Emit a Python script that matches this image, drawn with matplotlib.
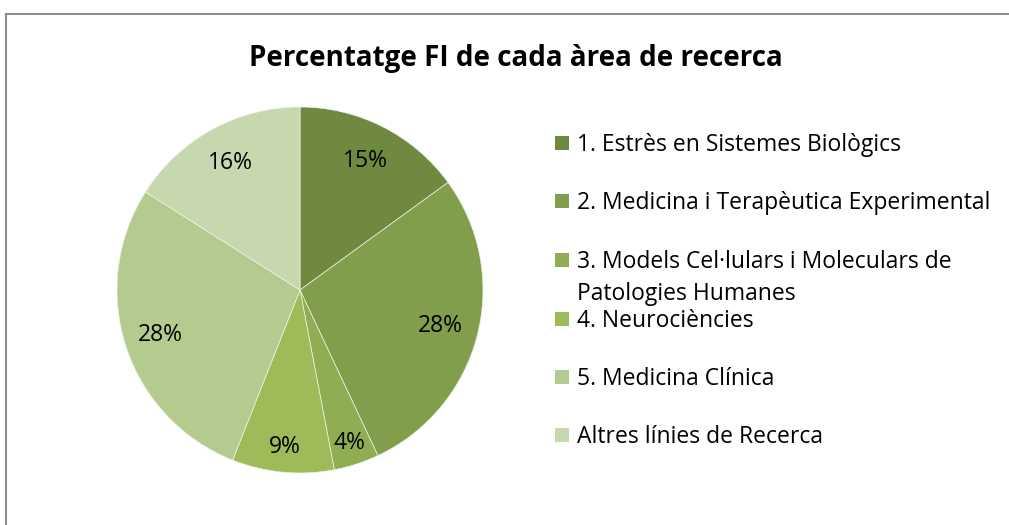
import numpy as np
import matplotlib.pyplot as plt
from matplotlib.patches import Rectangle
from matplotlib.lines import Line2D

plt.rcParams['font.family'] = ['Open Sans', 'DejaVu Sans']

# data
areas = ['1. Estrès en Sistemes Biològics',
         '2. Medicina i Terapèutica Experimental',
         '3. Models Cel·lulars i Moleculars de\nPatologies Humanes',
         '4. Neurociències',
         '5. Medicina Clínica',
         'Altres línies de Recerca']
percent = [15, 28, 4, 9, 28, 16]

colors = ['#6f8a40', '#809e4b', '#8fad53', '#9dbb58', '#b3cb8e', '#c7d7ae']
label_dist = [0.79, 0.79, 0.88, 0.86, 0.80, 0.79]

W, H = 1009, 525
fig = plt.figure(figsize=(W / 100, H / 100), dpi=100)

# chart frame (only top and left edges visible)
fig.add_artist(Line2D([6 / W, 1], [1 - 14 / H, 1 - 14 / H], color='#8c8c8c', lw=1.5))
fig.add_artist(Line2D([6 / W, 6 / W], [0, 1 - 14 / H], color='#8c8c8c', lw=1.5))

cx, cy, r = 300, 290, 183
ax = fig.add_axes([(cx - r) / W, (H - cy - r) / H, 2 * r / W, 2 * r / H])
wedges, texts, autotexts = ax.pie(percent, colors=colors, startangle=90, counterclock=False,
                                  autopct='%1.0f%%', pctdistance=0.8,
                                  wedgeprops=dict(edgecolor='#eef3e6', linewidth=0.5),
                                  textprops=dict(fontsize=16.5, color='black'))
ax.set_xlim(-1, 1)
ax.set_ylim(-1, 1)
ax.set_aspect('auto')
ax.axis('off')

# nudge labels like Excel does
for w, t, d in zip(wedges, autotexts, label_dist):
    ang = np.deg2rad((w.theta1 + w.theta2) / 2)
    t.set_position((d * np.cos(ang), d * np.sin(ang)))

fig.text(516 / W, 1 - 66 / H, 'Percentatge FI de cada àrea de recerca',
         ha='center', va='baseline', fontsize=20, fontweight='bold')

# legend, drawn by hand so the wrapped entry lines up like the original
baselines = [151, 209, 268, 327, 385, 443]
for lab, col, y in zip(areas, colors, baselines):
    fig.add_artist(Rectangle((555 / W, 1 - (y - 1) / H), 14 / W, 14 / H,
                             facecolor=col, edgecolor='none'))
    for k, line in enumerate(lab.split('\n')):
        fig.text(577 / W, 1 - (y + 32 * k) / H, line, ha='left', va='baseline',
                 fontsize=16.5)

fig.savefig('out.png', dpi=100)
